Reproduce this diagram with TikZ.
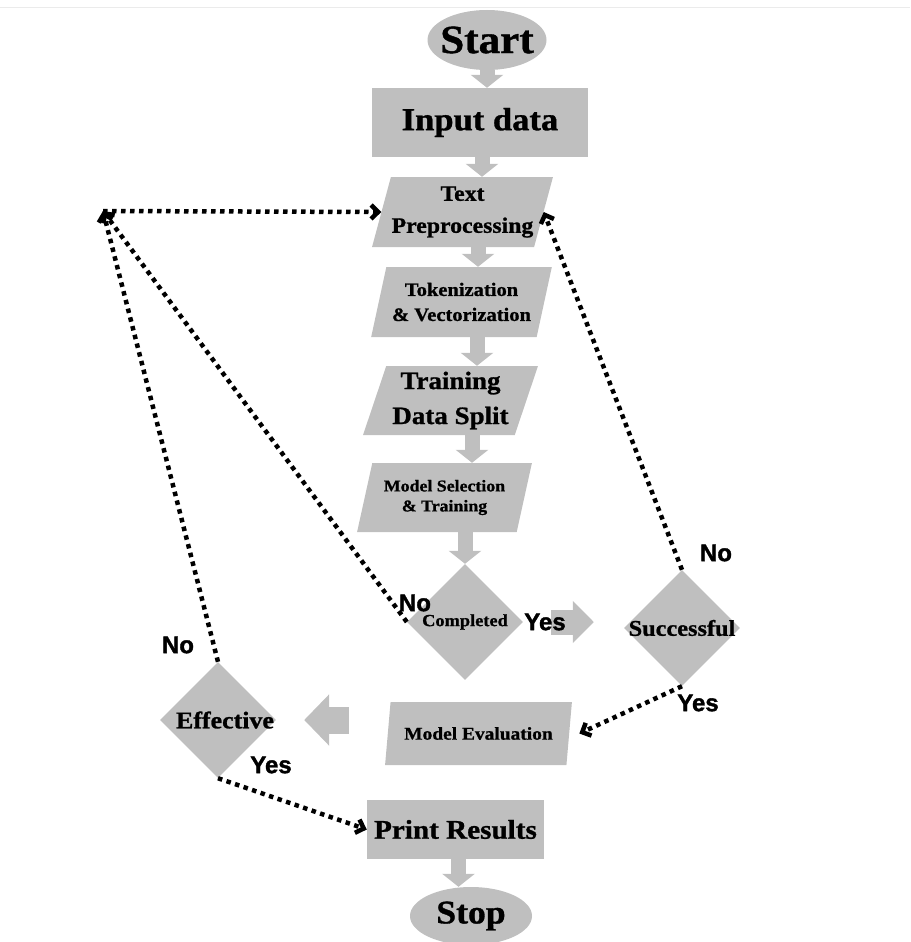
\documentclass[tikz,border=0pt]{standalone}
\usepackage{fontspec}
\setmainfont{Liberation Serif}[BoldFeatures={FakeStretch=1.08,FakeBold=1}]
\newfontfamily\yesnofont{Liberation Sans}[BoldFeatures={FakeBold=1.5}]
\usetikzlibrary{shapes.geometric,arrows.meta}

\definecolor{boxgray}{RGB}{191,191,191}
\newcommand{\nowidth}[1]{\makebox[0pt]{#1}}
\newcommand{\fsize}[2]{\fontsize{#1}{#2}\selectfont\bfseries}

\begin{document}
\begin{tikzpicture}[x=1pt,y=-1pt,
  terminal/.style={ellipse,fill=boxgray,inner sep=0pt},
  process/.style={rectangle,fill=boxgray,inner sep=0pt},
  io/.style={trapezium,trapezium left angle=70,trapezium right angle=110,
    trapezium stretches=true,fill=boxgray,inner sep=0pt,align=center},
  decision/.style={diamond,fill=boxgray,inner sep=0pt,minimum width=116pt,minimum height=116pt},
  answer/.style={font=\yesnofont\fontsize{24}{24}\selectfont\bfseries},
  flow/.style={draw=boxgray,line width=15pt,-{Triangle[width=32pt,length=13pt]}},
  loop/.style={draw=black,line width=4.5pt,dash pattern=on 4.5pt off 4.5pt,
    -{Straight Barb[length=7pt,width=14pt]}}]
  \useasboundingbox (0,0) rectangle (910,942);
  \draw[black!8,line width=1pt] (0,8) -- (910,8);

  % main column
  \node[terminal,minimum width=119pt,minimum height=60pt,font=\fsize{40}{40}] (start) at (487,40) {\nowidth{Start}};
  \node[process,minimum width=216pt,minimum height=69pt,font=\fsize{32}{32}] (input) at (480,122.5) {Input data};
  \node[io,minimum width=181pt,minimum height=70pt,font=\fsize{22}{32}] (textpre) at (462.5,212) {Text\\Preprocessing};
  \node[io,minimum width=181pt,minimum height=70pt,font=\fsize{19}{25}] (token) at (461.5,302) {Tokenization\\\& Vectorization};
  \node[io,minimum width=175pt,minimum height=69pt,font=\fsize{25}{35}] (split) at (450.5,400.5) {Training\\Data Split};
  \node[io,minimum width=175pt,minimum height=69pt,font=\fsize{16.5}{20}] (modelsel) at (444.5,497.5) {Model Selection\\\& Training};
  \node[decision,font=\fsize{17}{17}] (completed) at (465,622) {\nowidth{Completed}};
  \node[decision,font=\fsize{22.5}{22.5}] (successful) at (682,628) {\nowidth{Successful}};
  \node[io,minimum width=187pt,minimum height=63pt,font=\fsize{18}{18}] (modeleval) at (478.5,733.5) {Model Evaluation};
  \node[decision,font=\fsize{24}{24}] (effective) at (218,720) {\hspace*{14pt}\nowidth{Effective}};
  \node[process,minimum width=177pt,minimum height=59pt,font=\fsize{27}{27}] (print) at (455.5,829.5) {Print Results};
  \node[terminal,minimum width=122pt,minimum height=58pt,font=\fsize{33}{33}] (stop) at (471,916) {\nowidth{Stop}};
  \coordinate (hub) at (103,211);

  % gray flow arrows
  \draw[flow] (start.south) -- (start.south |- input.north);
  \draw[flow] ([xshift=2pt]input.south) -- ([xshift=2pt]input.south |- textpre.north);
  \draw[flow] ([xshift=15.5pt]textpre.south) -- ([xshift=15.5pt]textpre.south |- token.north);
  \draw[flow] ([xshift=15.5pt]token.south) -- ([xshift=15.5pt]token.south |- split.north);
  \draw[flow] ([xshift=21.5pt]split.south) -- ([xshift=21.5pt]split.south |- modelsel.north);
  \draw[flow] (completed.north |- modelsel.south) -- (completed.north);
  \draw[flow] ([xshift=3pt]print.south) -- ([xshift=3pt]print.south |- stop.north);
  \draw[flow,line width=25pt,-{Triangle[width=41pt,length=21pt]},shorten <=28pt,shorten >=30pt]
    (completed.east) -- (completed.east -| successful.west);
  \draw[flow,line width=27pt,-{Triangle[width=50pt,length=25pt]},shorten <=39pt,shorten >=28pt]
    (modeleval.west |- effective.east) -- (effective.east);

  % dotted loops
  \draw[loop] (successful.north) -- (textpre.east);
  \draw[loop] (successful.south) -- ([xshift=10pt]modeleval.east);
  \draw[loop] (completed.west) -- (hub);
  \draw[loop] (effective.north) -- (hub);
  \draw[loop] (hub) -- (textpre.west);
  \draw[loop] (effective.south) -- (print.west);

  % answers
  \node[answer] (noA) at (415,603) {No};
  \node[answer] (yesA) at (545,622) {Yes};
  \node[answer] (noB) at (716,553) {No};
  \node[answer] (yesB) at (698,703) {Yes};
  \node[answer] (noC) at (178,645) {No};
  \node[answer] (yesC) at (271,765) {Yes};
\end{tikzpicture}
\end{document}
